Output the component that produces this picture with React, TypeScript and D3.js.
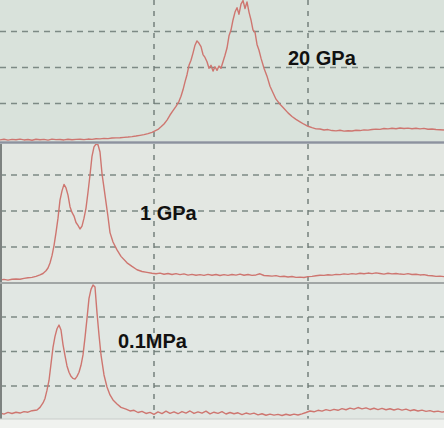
import React from "react";
import * as d3 from "d3";

// Raman-like traces: [channel, intensity (0-100)]
const trace20GPa: [number, number][] = [
  [0,-0.3],[4,0.2],[8,-0.4],[12,0.1],[16,-0.2],[20,0.3],[24,-0.3],[28,0],[32,-0.5],[36,0.2],[40,-0.2],[44,0.1],
  [48,-0.4],[52,0.3],[56,-0.1],[60,0],[64,-0.3],[68,0.2],[72,-0.2],[76,0.1],[80,0.2],[84,-0.1],[88,0.3],[92,0.1],
  [96,0.5],[100,0.4],[104,0.8],[108,0.6],[112,1.0],[116,1.1],[120,1.2],[124,1.5],[128,1.7],[132,2.0],[136,2.4],
  [140,2.9],[144,3.4],[148,4.1],[152,5.0],[155,6.0],[158,7.0],[161,8.8],[164,10.8],[167,13.5],[170,17],[173,20],
  [176,23],[179,26.5],[181,30],[183,34.5],[185,40],[187,45],[189,51.5],[191,55],[193,60],[195,65.5],[197,68.5],
  [199,66.8],[201,64.5],[203,59],[205,57],[207,54],[209,49.5],[211,51.5],[213,47.5],[215,50.5],[217,48],[219,51],
  [221,49.5],[223,54],[225,58.5],[227,63.5],[229,72],[231,76],[233,83],[235,88.5],[237,91.5],[239,87],[241,94],
  [243,96.5],[245,91],[247,95.5],[249,88.5],[251,83],[253,76],[255,74.5],[257,66],[259,62],[261,56.5],[264,49.5],
  [267,44],[270,37],[273,32.5],[276,28],[280,24.5],[284,21.5],[288,18.5],[292,16],[296,14],[300,12.3],[304,10.6],
  [308,9.2],[312,8.2],[316,7.4],[320,7.3],[324,6.6],[328,6.9],[332,6.2],[336,6.0],[340,6.4],[344,5.8],[348,6.1],
  [352,5.9],[356,6.4],[360,6.2],[364,6.7],[368,6.5],[372,6.9],[376,7.2],[380,7.0],[384,7.6],[388,7.4],[392,7.8],
  [396,7.5],[400,8.0],[404,7.6],[408,7.9],[412,7.5],[416,7.8],[420,7.4],[424,7.7],[428,7.1],[432,7.3],[436,6.9],
  [440,6.8],[444,6.6],
];

const trace1GPa: [number, number][] = [
  [0,2.1],[4,2.5],[8,2.0],[12,2.6],[16,2.8],[20,2.6],[24,3.2],[28,3.6],[32,3.9],[36,4.6],[40,5.6],[43,6.6],
  [46,8.5],[48,10.4],[50,13.9],[52,19],[54,26],[56,35],[58,45],[60,57.6],[62,64],[64,68.5],[66,66],[68,61],
  [70,53],[72,49],[74,46.5],[76,42],[78,40],[80,37.5],[82,39.5],[84,45],[86,52],[88,63],[90,75],[92,88],[94,94.5],
  [96,96.5],[98,96],[100,91],[102,76],[104,66],[106,56],[108,46],[110,35],[113,28.5],[117,23],[121,18.5],[127,14],
  [132,11.5],[137,9.2],[142,8.0],[147,7.4],[152,6.8],[156,6.4],[160,6.9],[164,6.1],[168,6.6],[172,5.9],[176,6.5],
  [180,5.8],[184,6.3],[188,5.5],[192,6.0],[196,5.4],[200,5.8],[204,5.3],[208,6.0],[212,5.4],[216,5.9],[220,5.2],
  [224,5.8],[228,5.3],[232,5.9],[236,5.5],[240,6.2],[244,5.4],[248,5.9],[252,5.3],[256,5.6],[260,6.4],[264,5.2],
  [268,5.0],[272,4.8],[276,5.1],[280,4.4],[284,4.7],[288,4.2],[292,4.5],[296,3.9],[300,4.1],[304,3.8],[308,4.4],
  [312,4.6],[316,5.0],[320,5.4],[324,5.3],[328,5.7],[332,5.5],[336,6.0],[340,5.8],[344,6.3],[348,6.0],[352,6.5],
  [356,6.2],[360,6.8],[364,6.4],[368,6.9],[372,6.5],[376,7.0],[380,6.6],[384,6.2],[388,6.8],[392,6.3],[396,6.6],
  [400,6.2],[404,6.0],[408,6.5],[412,5.9],[416,6.1],[420,5.6],[424,5.8],[428,5.2],[432,5.0],[436,4.6],[440,4.8],
  [444,4.4],
];

const trace01MPa: [number, number][] = [
  [0,5.4],[4,4.6],[8,5.9],[12,5.1],[16,6.0],[20,5.4],[24,6.4],[28,6.0],[32,7.1],[37,7.6],[40,9.5],[43,12.7],
  [45,16],[47,22],[49,29],[51,41],[53,53],[55,61],[57,66.5],[59,69.2],[61,65.6],[63,55],[65,47],[67,39.5],
  [69,35],[71,32],[73,30.5],[75,30],[77,32],[79,35],[81,40],[83,47.5],[85,60],[87,74],[89,88.5],[91,95],[93,98.2],
  [95,96.7],[97,78],[99,62],[101,47.5],[104,33],[107,24.3],[110,18.5],[113,14.9],[117,12],[121,9.5],[126,8.2],
  [130,6.9],[134,7.4],[138,5.8],[142,6.6],[146,5.1],[150,5.9],[154,4.4],[158,6.2],[162,5.0],[166,6.8],[170,5.2],
  [174,6.3],[178,4.9],[182,6.5],[186,5.4],[190,6.9],[194,5.1],[198,6.2],[202,5.3],[206,6.8],[210,4.8],[214,6.0],
  [218,5.2],[222,6.4],[226,4.7],[230,5.8],[234,4.9],[238,5.6],[242,4.3],[246,5.4],[250,4.6],[254,5.3],[258,4.1],
  [262,4.9],[266,3.8],[270,4.6],[274,3.9],[278,4.4],[282,3.6],[286,4.5],[290,3.8],[294,4.6],[298,4.0],[302,4.8],
  [306,5.8],[310,6.9],[314,6.3],[318,7.4],[322,6.8],[326,7.9],[330,7.2],[334,8.1],[338,7.4],[342,8.6],[346,7.8],
  [350,9.0],[354,8.2],[358,9.4],[362,8.4],[366,9.1],[370,8.0],[374,8.9],[378,7.9],[382,8.8],[386,7.8],[390,8.5],
  [394,7.6],[398,8.4],[402,7.5],[406,8.2],[410,7.1],[414,7.8],[418,6.9],[422,7.5],[426,6.6],[430,7.2],[434,6.3],
  [438,6.8],[442,6.1],[444,6.4],
];

const labels = ["20 GPa", "1 GPa", "0.1MPa"];
const gridLevels = [25, 50, 75];
const xGridValues = [154, 308];

const W = 444;
const H = 428;

const panels = [
  { data: trace20GPa, label: labels[0], top: 0, bottom: 141, yRange: [139.5, -4.5], bg: "rgb(217,226,219)", labelPos: [288, 65], border: false },
  { data: trace1GPa, label: labels[1], top: 144, bottom: 282, yRange: [283, 139], bg: "rgb(227,231,226)", labelPos: [140, 220], border: true },
  { data: trace01MPa, label: labels[2], top: 284, bottom: 419, yRange: [420.5, 282.5], bg: "rgb(225,231,227)", labelPos: [118, 348], border: true },
];

export default function App() {
  const x = d3.scaleLinear().domain([0, 444]).range([0, W]);
  return (
    <svg width={W} height={H} style={{ position: "absolute", left: 0, top: 0, display: "block" }}>
      <rect x={0} y={0} width={W} height={H} fill="rgb(240,242,239)" />
      {panels.map((p, i) => {
        const y = d3.scaleLinear().domain([0, 100]).range(p.yRange);
        const line = d3.line<[number, number]>().x((d) => x(d[0])).y((d) => y(d[1]));
        const clipId = `clip${i}`;
        return (
          <g key={i}>
            <defs>
              <clipPath id={clipId}>
                <rect x={0} y={p.top} width={W} height={p.bottom - p.top} />
              </clipPath>
            </defs>
            <rect x={0} y={p.top} width={W} height={p.bottom - p.top} fill={p.bg} />
            <g clipPath={`url(#${clipId})`}>
              {gridLevels.map((g) => (
                <line key={g} x1={0} x2={W} y1={y(g)} y2={y(g)} stroke="rgb(125,138,133)" strokeWidth={1.3} strokeDasharray="6,5" />
              ))}
              {xGridValues.map((g) => (
                <line key={g} x1={x(g)} x2={x(g)} y1={p.top} y2={p.bottom} stroke="rgb(110,122,118)" strokeWidth={1.4} strokeDasharray="5,6" />
              ))}
              <path d={line(p.data) || ""} fill="none" stroke="rgb(206,118,112)" strokeWidth={1.4} strokeLinejoin="round" />
            </g>
            {p.border && <line x1={1} x2={1} y1={p.top} y2={p.bottom} stroke="rgb(125,130,128)" strokeWidth={2} />}
            <text x={p.labelPos[0]} y={p.labelPos[1]} fontFamily="'Liberation Sans', Arial, sans-serif" fontWeight="bold" fontSize={20} fill="#111">
              {p.label}
            </text>
          </g>
        );
      })}
      <line x1={0} x2={W} y1={142.5} y2={142.5} stroke="rgb(140,146,158)" strokeWidth={2.5} />
      <line x1={0} x2={W} y1={283} y2={283} stroke="rgb(135,140,140)" strokeWidth={1.5} />
      <line x1={0} x2={W} y1={419} y2={419} stroke="rgb(200,204,202)" strokeWidth={1} />
    </svg>
  );
}
